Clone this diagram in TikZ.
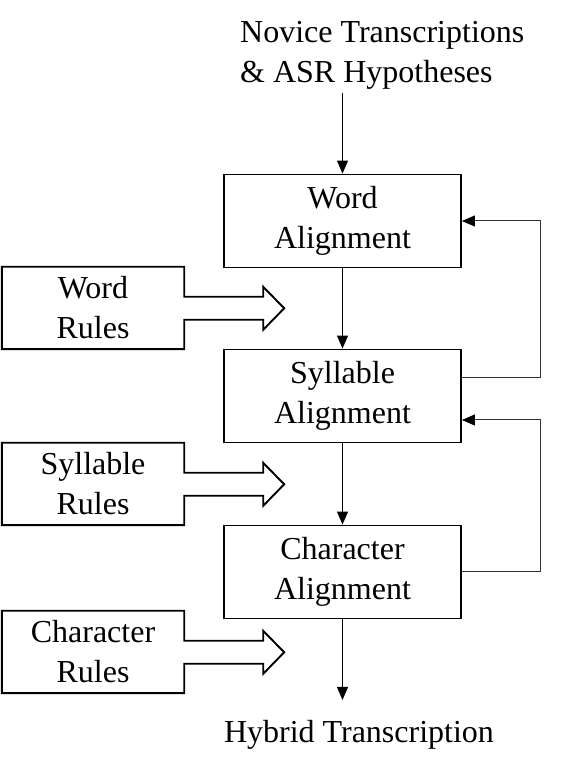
\documentclass[tikz,border=0pt]{standalone}
\usepackage{fontspec}
\setmainfont{Liberation Serif}
\usetikzlibrary{arrows.meta}

\begin{document}
\begin{tikzpicture}[x=1pt, y=1pt,
  font=\fontsize{32}{40}\selectfont,
  alignbox/.style={draw, line width=1.9pt, minimum width=237pt, minimum height=93pt, align=center, inner sep=0pt},
  rulebox/.style={minimum width=182pt, minimum height=82pt, align=center, inner sep=0pt},
  ruleline/.style={line width=1.9pt, line join=miter},
  flow/.style={line width=1.1pt, -{Triangle[length=13pt, width=11pt]}},
  loop/.style={line width=1pt, black!80, -{Triangle[length=13pt, width=11pt, color=black, fill=black]}}]
\useasboundingbox (0,0) rectangle (581,772);

\node[anchor=north west, inner sep=0pt, align=left] (in) at (240,751) {Novice Transcriptions\\\& ASR Hypotheses};
\node[alignbox] (wa) at (342.5,551) {Word\\Alignment};
\node[alignbox] (sa) at (342.5,376) {Syllable\\Alignment};
\node[alignbox] (ca) at (342.5,200) {Character\\Alignment};
\node[anchor=base, inner sep=0pt] (out) at (359,30) {Hybrid Transcription};

\node[rulebox] (wr) at (93,464) {Word\\Rules};
\node[rulebox] (sr) at (93,288) {Syllable\\Rules};
\node[rulebox] (cr) at (93,120) {Character\\Rules};

\coordinate (intop) at (342.5,679);
\coordinate (outtip) at (342.5,72);

% rule boxes with block arrows
\foreach \r in {wr,sr,cr}
  \draw[ruleline] (\r.north east) -- ++(0,-30) -- ++(79,0) -- ++(0,10) -- ++(21,-21.5)
    -- ++(-21,-21.5) -- ++(0,10) -- ++(-79,0) -- (\r.south east) -- (\r.south west)
    -- (\r.north west) -- cycle;

\draw[flow] (intop) -- (wa.north);
\draw[flow] (wa.south) -- (sa.north);
\draw[flow] (sa.south) -- (ca.north);
\draw[flow] (ca.south) -- (outtip);

% feedback loops
\draw[loop] ([yshift=18pt]sa.east) -- ++(79,0) |- (wa.east);
\draw[loop] (ca.east) -- ++(79,0) |- ([yshift=-24pt]sa.east);
\end{tikzpicture}
\end{document}
